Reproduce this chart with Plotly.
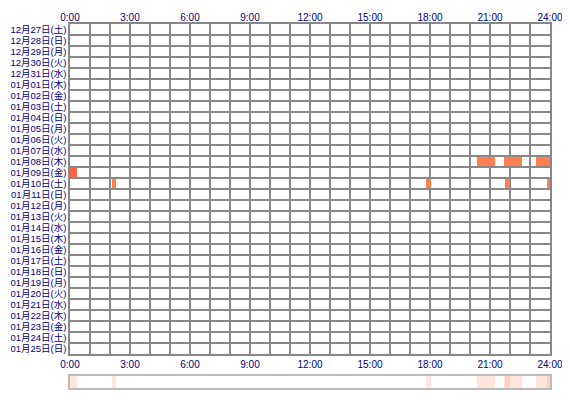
import plotly.graph_objects as go

dates = ["12月27日(土)", "12月28日(日)", "12月29日(月)", "12月30日(火)", "12月31日(水)",
         "01月01日(木)", "01月02日(金)", "01月03日(土)", "01月04日(日)", "01月05日(月)",
         "01月06日(火)", "01月07日(水)", "01月08日(木)", "01月09日(金)", "01月10日(土)",
         "01月11日(日)", "01月12日(月)", "01月13日(火)", "01月14日(水)", "01月15日(木)",
         "01月16日(金)", "01月17日(土)", "01月18日(日)", "01月19日(月)", "01月20日(火)",
         "01月21日(水)", "01月22日(木)", "01月23日(金)", "01月24日(土)", "01月25日(日)"]

# activity sessions: date label, start hour, end hour
session_day = ["01月08日(木)", "01月08日(木)", "01月08日(木)", "01月09日(金)",
               "01月10日(土)", "01月10日(土)", "01月10日(土)", "01月10日(土)"]
session_start = [20.35, 21.7, 23.3, 0.0, 2.08, 17.8, 21.75, 23.85]
session_end = [21.25, 22.6, 24.0, 0.33, 2.28, 18.07, 22.0, 24.0]
session_color = ["#FF7F50", "#FF7F50", "#FF7F50", "#FF6347",
                 "#FF7F50", "#FF7F50", "#FF7F50", "#FF7F50"]

hour_ticks = [0, 3, 6, 9, 12, 15, 18, 21, 24]
hour_labels = ["0:00", "3:00", "6:00", "9:00", "12:00", "15:00", "18:00", "21:00", "24:00"]

NAVY = "#000080"
GRID = "#888888"
label_font = dict(family="Liberation Sans, Noto Sans CJK JP", size=10, color=NAVY)
date_font = dict(family="Liberation Sans, Noto Sans CJK JP", size=9.5, color=NAVY)

row_of = {d: i for i, d in enumerate(dates)}
ys = [row_of[d] + 0.5 for d in session_day]
durs = [e - s for s, e in zip(session_start, session_end)]

fig = go.Figure()
fig.add_trace(go.Bar(
    orientation="h", y=ys, x=durs, base=session_start, width=0.85,
    marker=dict(color=session_color, line=dict(width=0)),
    xaxis="x", yaxis="y", hoverinfo="skip", showlegend=False))

fig.add_trace(go.Bar(
    orientation="h", y=[0.5] * len(durs), x=durs, base=session_start, width=1,
    marker=dict(color="rgba(255,127,80,0.2)", line=dict(width=0)),
    xaxis="x2", yaxis="y2", hoverinfo="skip", showlegend=False))

# invisible trace to activate the top axis
fig.add_trace(go.Scatter(x=[0, 24], y=[0, 0], mode="markers", marker=dict(opacity=0),
                         xaxis="x3", yaxis="y", hoverinfo="skip", showlegend=False))

fig.update_layout(
    width=562, height=392,
    margin=dict(l=62, r=20, t=16, b=12, autoexpand=False),
    paper_bgcolor="white", plot_bgcolor="white",
    barmode="overlay", bargap=0,
    xaxis=dict(domain=[0, 1], range=[0, 24], anchor="y", automargin=False,
               tickvals=hour_ticks, ticktext=hour_labels, tickfont=label_font,
               showgrid=True, gridcolor=GRID, gridwidth=1.5,
               minor=dict(dtick=1, tick0=0, showgrid=True, gridcolor=GRID, gridwidth=1.5),
               showline=True, linecolor=GRID, linewidth=1.5, mirror=True,
               zeroline=False, ticks="", fixedrange=True),
    xaxis3=dict(overlaying="x", side="top", anchor="y", range=[0, 24], automargin=False,
                tickvals=hour_ticks, ticktext=hour_labels, tickfont=label_font,
                showgrid=False, zeroline=False, ticks="", showline=False),
    yaxis=dict(domain=[34 / 364, 1], range=[30, 0], anchor="x", automargin=False,
               tickvals=[i + 0.5 for i in range(len(dates))], ticktext=dates,
               tickfont=date_font, showgrid=False,
               minor=dict(dtick=1, tick0=0, showgrid=True, gridcolor=GRID, gridwidth=1.5),
               showline=True, linecolor=GRID, linewidth=1.5, mirror=True,
               zeroline=False, ticks="", ticklabelstandoff=0),
    xaxis2=dict(domain=[0, 1], range=[0, 24], anchor="y2", showticklabels=False,
                automargin=False, showgrid=False, zeroline=False, ticks="",
                showline=True, linecolor="#BBBBBB", linewidth=2, mirror=True),
    yaxis2=dict(domain=[0, 12 / 364], range=[0, 1], anchor="x2", showticklabels=False,
                automargin=False, showgrid=False, zeroline=False, ticks="",
                showline=True, linecolor="#BBBBBB", linewidth=2, mirror=True),
)

fig.write_html("out.html")
